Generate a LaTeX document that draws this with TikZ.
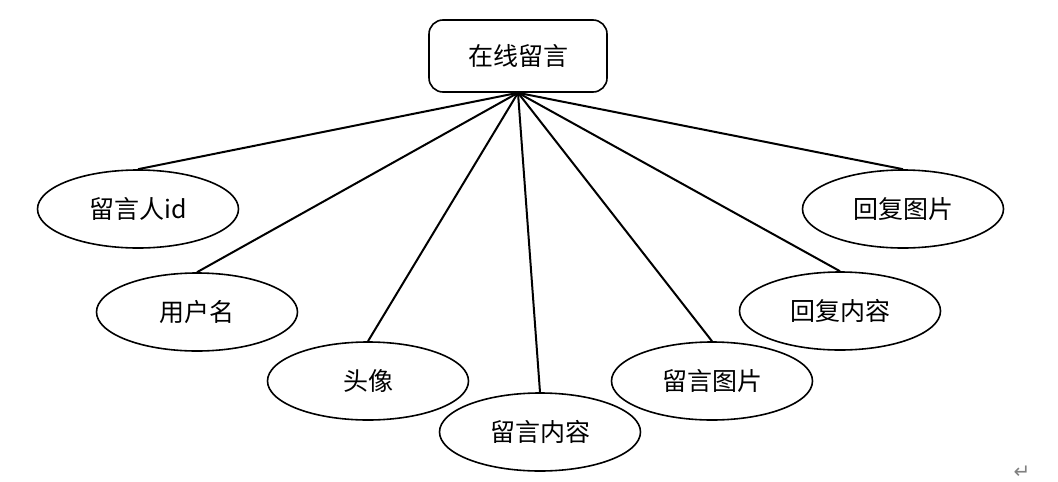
\documentclass[tikz,border=0pt]{standalone}
\usepackage{fontspec}
\setmainfont{Noto Sans CJK SC}
\newfontfamily\symfont{DejaVu Sans}
\usetikzlibrary{shapes.geometric}

\begin{document}
\begin{tikzpicture}[x=1pt, y=-1pt, font=\fontsize{25}{29}\selectfont,
    main/.style = {draw, ellipse, line width=1.6pt, fill=white, inner sep=0pt,
                   minimum width=201pt, minimum height=78pt},
    topbox/.style = {draw, rectangle, rounded corners=14pt, line width=1.6pt, fill=white,
                     minimum width=178pt, minimum height=72pt},
    edge/.style = {line width=2pt}]
    \useasboundingbox (0,0) rectangle (1058,482);
    % Nodes

    \node[topbox] (0) at (518, 56) {在线留言};
    \node[main] (1) at (138, 209) {留言人id};
    \node[main] (2) at (197, 312) {用户名};
    \node[main] (3) at (368, 381) {头像};
    \node[main] (4) at (540, 432) {留言内容};
    \node[main] (5) at (712, 381) {留言图片};
    \node[main] (6) at (840, 311) {回复内容};
    \node[main] (7) at (903, 209) {回复图片};
    \node[text=black!50, font=\symfont\fontsize{20}{22}\selectfont] (mark) at (1022, 472) {↵};

    % Edges
    \draw[edge] (0.south) -- (1.north);
    \draw[edge] (0.south) -- (2.north);
    \draw[edge] (0.south) -- (3.north);
    \draw[edge] (0.south) -- (4.north);
    \draw[edge] (0.south) -- (5.north);
    \draw[edge] (0.south) -- (6.north);
    \draw[edge] (0.south) -- (7.north);
\end{tikzpicture}
\end{document}
